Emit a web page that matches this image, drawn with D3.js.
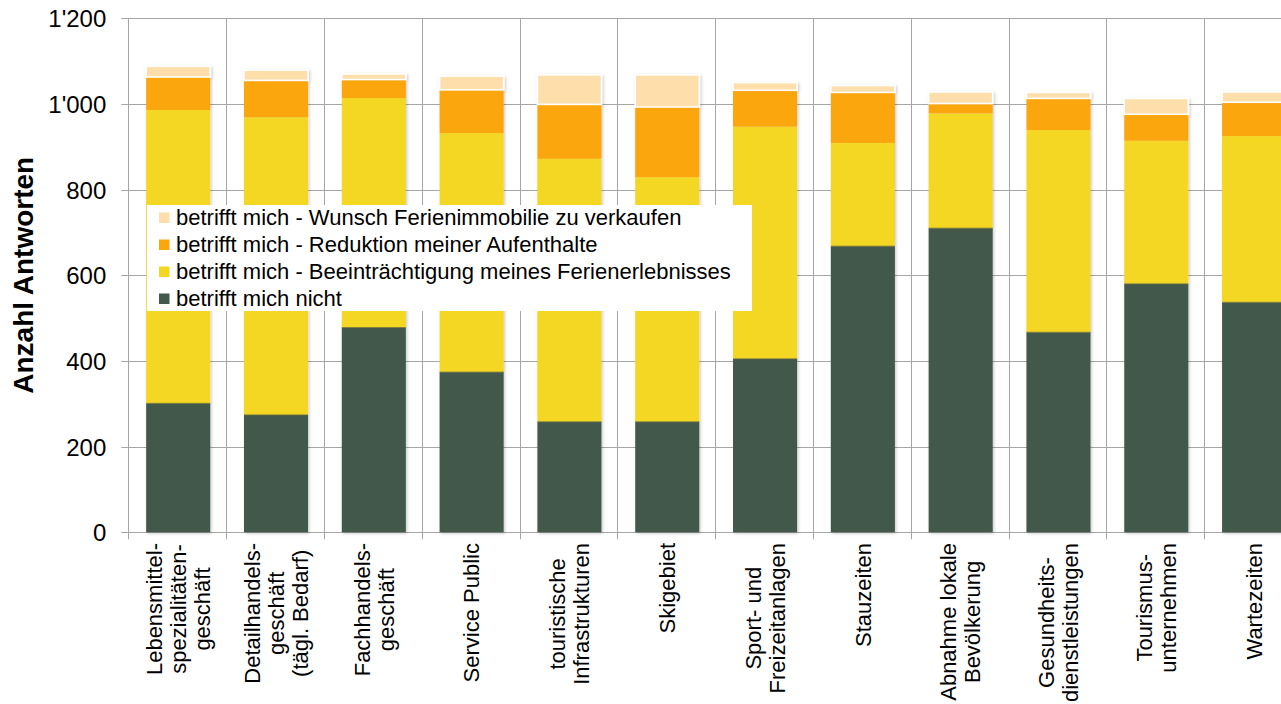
<!DOCTYPE html>
<html>
<head>
<meta charset="utf-8">
<script src="https://cdn.jsdelivr.net/npm/d3@7"></script>
<style>
  html, body { margin: 0; padding: 0; background: #fff; overflow: hidden; }
  svg { display: block; font-family: "Liberation Sans", Arial, sans-serif; }
</style>
</head>
<body>
<svg id="chart" width="1281" height="704"></svg>
<script>
// ---- data ----
const categories = [
  "Lebensmittel-\nspezialitäten-\ngeschäft",
  "Detailhandels-\ngeschäft\n(tägl. Bedarf)",
  "Fachhandels-\ngeschäft",
  "Service Public",
  "touristische\nInfrastrukturen",
  "Skigebiet",
  "Sport- und\nFreizeitanlagen",
  "Stauzeiten",
  "Abnahme lokale\nBevölkerung",
  "Gesundheits-\ndienstleistungen",
  "Tourismus-\nunternehmen",
  "Wartezeiten"
];
const seriesNames = [
  "betrifft mich nicht",
  "betrifft mich - Beeinträchtigung meines Ferienerlebnisses",
  "betrifft mich - Reduktion meiner Aufenthalte",
  "betrifft mich - Wunsch Ferienimmobilie zu verkaufen"
];
const nichtValues      = [301, 274, 478, 374, 258, 258, 405, 668, 710, 467, 580, 537];
const beeintrValues    = [685, 695, 536, 558, 614, 571, 542, 241, 268, 472, 334, 388];
const reduktionValues  = [ 77,  86,  43, 101, 127, 164,  85, 118,  23,  74,  62,  79];
const verkaufenValues  = [ 25,  24,  13,  32,  69,  75,  18,  16,  27,  14,  37,  24];
const yTicks = [0, 200, 400, 600, 800, 1000, 1200];
const yTitle = "Anzahl Antworten";

const colors = ["#43594c", "#f4d722", "#fba60e", "#fedfab"];

// ---- layout ----
const svg = d3.select("#chart");
const plotLeft = 128.3, plotRight = 1302, plotTop = 18.3, plotBottom = 532.3;

const x = d3.scaleBand().domain(categories).range([plotLeft, plotRight])
  .paddingInner(0.345).paddingOuter(0.1725);
const y = d3.scaleLinear().domain([0, 1200]).range([plotBottom, plotTop]);
const step = x.step();

const locale = d3.formatLocale({decimal: ".", thousands: "'", grouping: [3], currency: ["", ""]});
const fmt = locale.format(",");

const defs = svg.append("defs");
const f = defs.append("filter").attr("id", "shadow").attr("x", "-10%").attr("y", "-10%").attr("width", "130%").attr("height", "130%");
f.append("feDropShadow").attr("dx", 1.2).attr("dy", 1.2).attr("stdDeviation", 1.4)
  .attr("flood-color", "#000").attr("flood-opacity", 0.22);

// gridlines horizontal
svg.append("g").selectAll("line").data(yTicks).join("line")
  .attr("x1", plotLeft - 7).attr("x2", plotRight)
  .attr("y1", d => Math.round(y(d)) + 0.5).attr("y2", d => Math.round(y(d)) + 0.5)
  .attr("stroke", "#a6a6a6").attr("stroke-width", 1);

// vertical gridlines at category boundaries
const bounds = d3.range(categories.length + 1).map(i => plotLeft + i * step);
svg.append("g").selectAll("line").data(bounds).join("line")
  .attr("x1", d => Math.round(d) + 0.5).attr("x2", d => Math.round(d) + 0.5)
  .attr("y1", plotTop).attr("y2", plotBottom + 7)
  .attr("stroke", "#a6a6a6").attr("stroke-width", 1);

// y axis labels
const yAxis = d3.axisLeft(y).tickValues(yTicks).tickFormat(fmt).tickSize(0).tickPadding(22);
const ga = svg.append("g").attr("transform", `translate(${plotLeft},0)`).call(yAxis);
ga.select(".domain").remove();
ga.selectAll("text").attr("font-size", 24).attr("fill", "#000")
  .attr("font-family", "'Liberation Sans', Arial, sans-serif").attr("dy", "0.35em");

// y title
svg.append("text")
  .attr("transform", `translate(33,${(plotTop + plotBottom) / 2}) rotate(-90)`)
  .attr("text-anchor", "middle").attr("font-size", 28).attr("font-weight", "bold")
  .text(yTitle);

// stacked bars
const rows = categories.map((c, i) => ({
  cat: c, s0: nichtValues[i], s1: beeintrValues[i], s2: reduktionValues[i], s3: verkaufenValues[i]
}));
const stack = d3.stack().keys(["s0", "s1", "s2", "s3"]);
const stacked = stack(rows);

const barG = svg.append("g");
const perCat = barG.selectAll("g.cat").data(rows).join("g").attr("class", "cat")
  .attr("filter", "url(#shadow)");
perCat.each(function(d, i) {
  const g = d3.select(this);
  stacked.forEach((layer, k) => {
    const seg = layer[i];
    g.append("rect")
      .attr("x", x(d.cat) + 1)
      .attr("width", x.bandwidth())
      .attr("y", y(seg[1]))
      .attr("height", y(seg[0]) - y(seg[1]))
      .attr("fill", colors[k])
      .attr("stroke", k === 3 ? "#ffffff" : "none")
      .attr("stroke-width", k === 3 ? 1.6 : 0);
  });
  g.append("line")
    .attr("x1", x(d.cat) + 1).attr("x2", x(d.cat) + 1 + x.bandwidth())
    .attr("y1", y(stacked[0][i][1])).attr("y2", y(stacked[0][i][1]))
    .attr("stroke", "#6b6f3a").attr("stroke-width", 0.8);
});

// x labels
const lbl = svg.append("g");
categories.forEach(c => {
  const lines = c.split("\n");
  const cx = x(c) + x.bandwidth() / 2 + 1;
  const lh = 24;
  const t = lbl.append("text").attr("font-size", 22).attr("fill", "#000").attr("text-anchor", "middle");
  lines.forEach((ln, j) => {
    t.append("tspan").attr("x", 0).attr("y", (j - (lines.length - 1) / 2) * lh).attr("dy", "0.35em").text(ln);
  });
  let maxW = 0;
  t.selectAll("tspan").each(function() { maxW = Math.max(maxW, this.getComputedTextLength()); });
  t.attr("transform", `translate(${cx},${543 + maxW / 2}) rotate(-90)`);
});

// legend
const lg = svg.append("g");
lg.append("rect").attr("x", 147).attr("y", 205).attr("width", 605).attr("height", 106).attr("fill", "#fff");
const legendOrder = [3, 2, 1, 0];
legendOrder.forEach((k, j) => {
  const cy = 217.5 + j * 27;
  lg.append("rect").attr("x", 159).attr("y", cy - 5).attr("width", 10.5).attr("height", 10.5).attr("fill", colors[k]);
  lg.append("text").attr("x", 176).attr("y", cy).attr("dy", "0.36em").attr("font-size", 22).text(seriesNames[k]);
});
</script>
</body>
</html>
